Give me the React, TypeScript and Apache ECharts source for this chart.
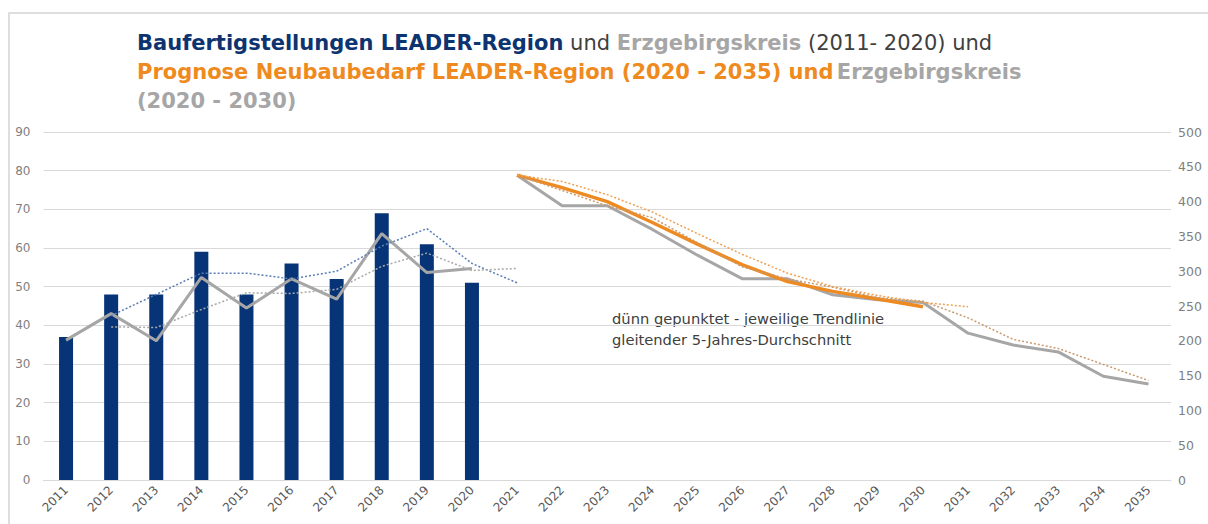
import React, { useEffect, useRef } from 'react';
import * as echarts from 'echarts';

const years = [
  '2011', '2012', '2013', '2014', '2015', '2016', '2017', '2018', '2019', '2020',
  '2021', '2022', '2023', '2024', '2025', '2026', '2027', '2028', '2029', '2030',
  '2031', '2032', '2033', '2034', '2035',
];

// 2011-2020, left axis
const bauLeader = [37, 48, 48, 59, 48, 56, 52, 69, 61, 51];
// 2011-2020, right axis
const bauErz = [201, 239, 200, 291, 247, 289, 260, 354, 298, 304];
// trend lines (moving average) 2012-2021
const maLeader = [42.5, 48, 53.5, 53.5, 52, 54, 60.5, 65, 56, 51];
const maErz = [220, 219, 245, 269, 268, 274, 307, 326, 301, 304];
// forecast 2021-2030 / 2021-2035, right axis
const progLeader = [438, 420, 400, 370, 339, 309, 285, 271, 260, 249];
const progErz = [438, 394, 394, 360, 323, 289, 289, 266, 259, 255, 211, 194, 184, 149, 138];
// forecast trend lines 2021-2031 / 2021-2035
const maProgLeader = [438, 429, 410, 385, 354, 324, 297, 278, 265, 255, 249];
const maProgErz = [438, 416, 394, 377, 341, 306, 289, 277, 262, 257, 233, 202, 189, 166, 143];

const leftTicks = { min: 0, max: 90, interval: 10 };
const rightTicks = { min: 0, max: 500, interval: 50 };

const pad = (arr: number[], start: number) =>
  years.map((_, i) => {
    const k = i - start;
    return k >= 0 && k < arr.length ? arr[k] : null;
  });

export default function App() {
  const ref = useRef<HTMLDivElement>(null);
  useEffect(() => {
    const chart = echarts.init(ref.current!, null, { renderer: 'svg' });
    const font = 'DejaVu Sans';
    const titleSize = 21;
    chart.setOption({
      animation: false,
      backgroundColor: '#ffffff',
      textStyle: { fontFamily: font },
      grid: { left: 43.5, right: 37, top: 132, bottom: 44, containLabel: false },
      xAxis: {
        type: 'category',
        data: years,
        boundaryGap: true,
        axisTick: { show: false },
        axisLine: { lineStyle: { color: '#d9d9d9', width: 1 } },
        axisLabel: { rotate: 45, interval: 0, fontSize: 12, color: '#595959', margin: 8, fontFamily: font },
      },
      yAxis: [
        {
          type: 'value',
          ...leftTicks,
          axisLine: { show: false },
          axisTick: { show: false },
          splitLine: { lineStyle: { color: '#d9d9d9', width: 1 } },
          axisLabel: { fontSize: 12, color: '#7f7f7f', margin: 13, fontFamily: font },
        },
        {
          type: 'value',
          ...rightTicks,
          position: 'right',
          axisLine: { show: false },
          axisTick: { show: false },
          splitLine: { show: false },
          axisLabel: { fontSize: 12.5, color: '#7f7f7f', margin: 7, fontFamily: font },
        },
      ],
      series: [
        {
          type: 'bar',
          data: pad(bauLeader, 0),
          yAxisIndex: 0,
          barWidth: 14,
          itemStyle: { color: '#073477' },
        },
        {
          type: 'line',
          data: pad(bauErz, 0),
          yAxisIndex: 1,
          showSymbol: false,
          lineStyle: { color: '#a6a6a6', width: 3 },
        },
        {
          type: 'line',
          data: pad(maLeader, 1),
          yAxisIndex: 0,
          showSymbol: false,
          lineStyle: { color: '#5b7db5', width: 1.5, type: [2, 2] },
        },
        {
          type: 'line',
          data: pad(maErz, 1),
          yAxisIndex: 1,
          showSymbol: false,
          lineStyle: { color: '#a9a9a9', width: 1.5, type: [2, 2] },
        },
        {
          type: 'line',
          data: pad(progErz, 10),
          yAxisIndex: 1,
          showSymbol: false,
          lineStyle: { color: '#a6a6a6', width: 3 },
        },
        {
          type: 'line',
          data: pad(progLeader, 10),
          yAxisIndex: 1,
          showSymbol: false,
          lineStyle: { color: '#ee8a22', width: 3.5 },
        },
        {
          type: 'line',
          data: pad(maProgErz, 10),
          yAxisIndex: 1,
          showSymbol: false,
          lineStyle: { color: '#c99a6e', width: 1.5, type: [2, 2] },
        },
        {
          type: 'line',
          data: pad(maProgLeader, 10),
          yAxisIndex: 1,
          showSymbol: false,
          lineStyle: { color: '#f0a050', width: 1.5, type: [2, 2] },
        },
      ],
      graphic: [
        {
          type: 'rect',
          silent: true,
          shape: { x: 9, y: 13, width: 1400, height: 700 },
          style: { fill: 'none', stroke: '#d4d4d4', lineWidth: 1.5 },
        },
        {
          type: 'text',
          x: 137,
          y: 43,
          style: {
            text: '{b|Baufertigstellungen LEADER-Region}{n| und }{g|Erzgebirgskreis}{n| (2011- 2020) und}',
            verticalAlign: 'middle',
            rich: {
              b: { fontFamily: font, fontSize: titleSize, fontWeight: 'bold', fill: '#0d3470' },
              n: { fontFamily: font, fontSize: titleSize, fill: '#404040' },
              g: { fontFamily: font, fontSize: titleSize, fontWeight: 'bold', fill: '#a6a6a6' },
            },
          },
        },
        {
          type: 'text',
          x: 137,
          y: 72,
          style: {
            text: '{o|Prognose Neubaubedarf LEADER-Region (2020 - 2035) und} {g|Erzgebirgskreis}',
            verticalAlign: 'middle',
            rich: {
              o: { fontFamily: font, fontSize: titleSize, fontWeight: 'bold', fill: '#ef8a1e' },
              g: { fontFamily: font, fontSize: titleSize, fontWeight: 'bold', fill: '#a6a6a6' },
            },
          },
        },
        {
          type: 'text',
          x: 137,
          y: 101,
          style: {
            text: '(2020 - 2030)',
            verticalAlign: 'middle',
            fontFamily: font,
            fontSize: titleSize,
            fontWeight: 'bold',
            fill: '#a6a6a6',
          },
        },
        {
          type: 'text',
          x: 612,
          y: 329,
          style: {
            text: 'dünn gepunktet - jeweilige Trendlinie\ngleitender 5-Jahres-Durchschnitt',
            verticalAlign: 'middle',
            fontFamily: font,
            fontSize: 14.7,
            lineHeight: 21,
            fill: '#404040',
          },
        },
      ],
    });
    return () => chart.dispose();
  }, []);
  return (
    <div
      ref={ref}
      style={{ position: 'fixed', left: 0, top: 0, width: 1208, height: 524, background: '#fff' }}
    />
  );
}
